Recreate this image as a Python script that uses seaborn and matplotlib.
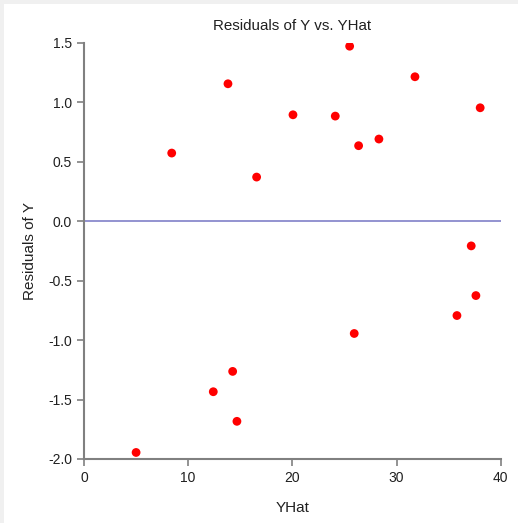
import numpy as np
import pandas as pd
import matplotlib
matplotlib.use("Agg")
import matplotlib.pyplot as plt
import seaborn as sns
from matplotlib.patches import Rectangle

# data
yhat = [5.0, 8.42, 12.41, 13.82, 14.27, 14.68, 16.57, 20.06, 24.12,
        25.5, 25.94, 26.36, 28.31, 31.77, 35.8, 37.17, 37.62, 38.03]
residuals = [-1.945, 0.574, -1.434, 1.157, -1.263, -1.683, 0.372, 0.896, 0.885,
             1.473, -0.944, 0.636, 0.692, 1.216, -0.793, -0.207, -0.625, 0.955]
x_ticks = [0, 10, 20, 30, 40]
y_ticks = [-2.0, -1.5, -1.0, -0.5, 0.0, 0.5, 1.0, 1.5]

df = pd.DataFrame({"YHat": yhat, "Residuals of Y": residuals})

sns.set_style("ticks")
plt.rcParams['font.family'] = ['Liberation Sans', 'DejaVu Sans']

fig = plt.figure(figsize=(5.18, 5.23), dpi=100, facecolor="#f0f0f0")
# white panel, leaving a thin grey strip at the left and top
fig.patches.append(Rectangle((4 / 518, 0), 1, 1 - 4 / 523, transform=fig.transFigure,
                             facecolor="white", edgecolor="none", zorder=-10))
ax = fig.add_axes([84 / 518, 64 / 523, (500.7 - 84) / 518, (459 - 43) / 523])
ax.set_facecolor("white")

ax.axhline(0, color="#8080c8", lw=1.2, zorder=1)
sns.scatterplot(data=df, x="YHat", y="Residuals of Y", ax=ax, color="#ff0000",
                s=40, edgecolor="none", zorder=3)

ax.set_xlim(0, 40)
ax.set_ylim(-2.0, 1.5)
ax.set_xticks(x_ticks)
ax.set_yticks(y_ticks)
ax.set_yticklabels([f"{v:.1f}" for v in y_ticks])
ax.tick_params(colors="#808080", labelcolor="#202020", labelsize=10, length=5, width=1.2)
for side in ["top", "right"]:
    ax.spines[side].set_visible(False)
for side in ["left", "bottom"]:
    ax.spines[side].set_color("#808080")
    ax.spines[side].set_linewidth(1.5)

ax.set_title("Residuals of Y vs. YHat", fontsize=10.9, color="#202020", pad=9)
ax.set_xlabel("YHat", fontsize=11, color="#202020", labelpad=12)
ax.set_ylabel("Residuals of Y", fontsize=11, color="#202020", labelpad=8)

fig.savefig("out.png", dpi=100, facecolor=fig.get_facecolor())
